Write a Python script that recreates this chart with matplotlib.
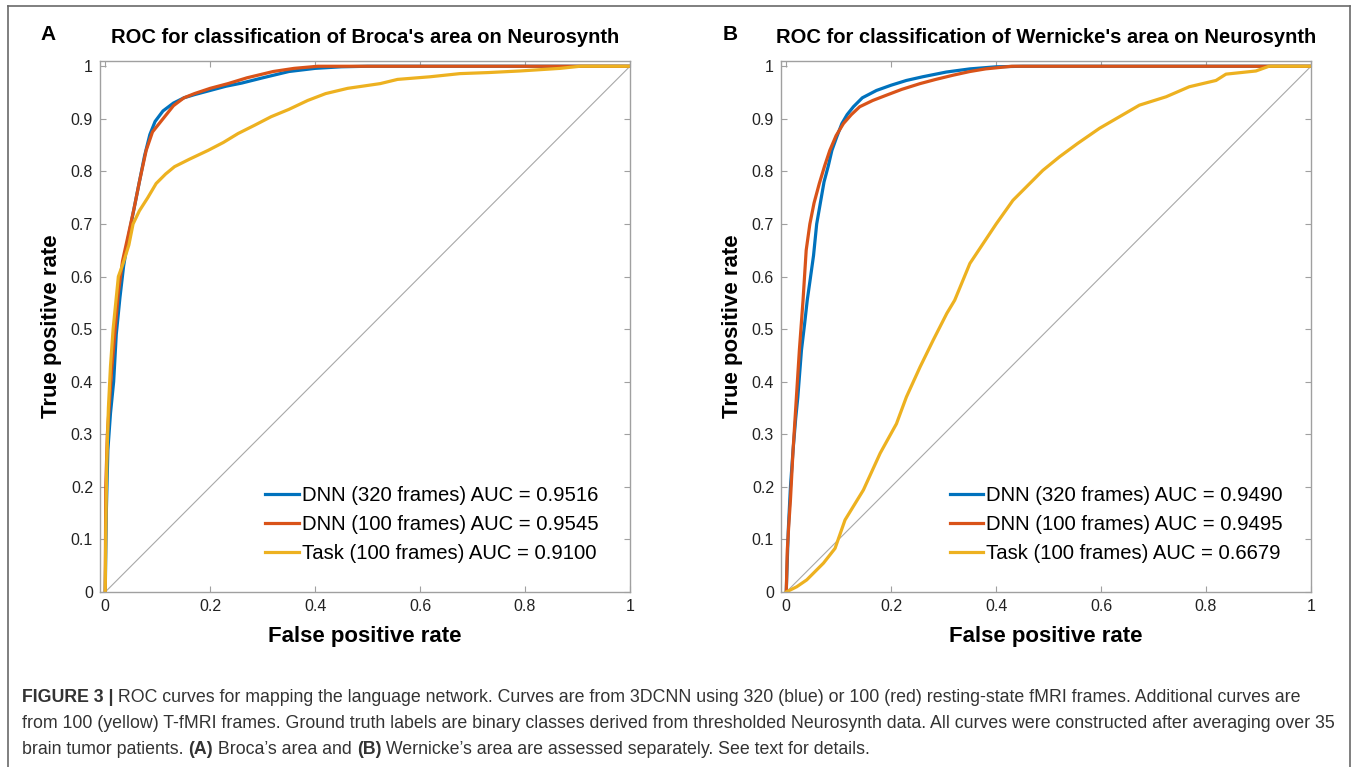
import matplotlib
matplotlib.use('Agg')
import matplotlib.pyplot as plt
from matplotlib.lines import Line2D

plt.rcParams['font.family'] = ['Liberation Sans', 'DejaVu Sans']

# ---- Panel A: Broca's area ----
broca_dnn320_fpr = [0, 0.002, 0.005, 0.010, 0.016, 0.021, 0.028, 0.035, 0.045, 0.055, 0.065, 0.075,
                    0.085, 0.095, 0.11, 0.13, 0.15, 0.17, 0.2, 0.23, 0.26, 0.3, 0.35, 0.4, 0.45, 0.5, 1.0]
broca_dnn320_tpr = [0, 0.15, 0.27, 0.34, 0.40, 0.49, 0.56, 0.62, 0.68, 0.73, 0.78, 0.83,
                    0.87, 0.895, 0.915, 0.93, 0.94, 0.946, 0.954, 0.962, 0.968, 0.978, 0.99, 0.996, 0.999, 1.0, 1.0]

broca_dnn100_fpr = [0, 0.001, 0.004, 0.008, 0.012, 0.018, 0.025, 0.033, 0.044, 0.055, 0.065, 0.078,
                    0.09, 0.11, 0.13, 0.15, 0.17, 0.2, 0.234, 0.27, 0.32, 0.36, 0.405, 1.0]
broca_dnn100_tpr = [0, 0.2, 0.3, 0.36, 0.42, 0.49, 0.57, 0.63, 0.68, 0.73, 0.78, 0.84,
                    0.875, 0.90, 0.925, 0.94, 0.948, 0.958, 0.967, 0.978, 0.99, 0.996, 1.0, 1.0]

broca_task_fpr = [0, 0.001, 0.003, 0.006, 0.010, 0.015, 0.020, 0.025, 0.034, 0.045, 0.053, 0.065,
                  0.081, 0.097, 0.115, 0.132, 0.16, 0.196, 0.225, 0.253, 0.285, 0.316, 0.35, 0.386,
                  0.42, 0.462, 0.524, 0.557, 0.619, 0.676, 0.73, 0.79, 0.867, 0.905, 1.0]
broca_task_tpr = [0, 0.12, 0.25, 0.35, 0.43, 0.50, 0.55, 0.60, 0.625, 0.66, 0.70, 0.725,
                  0.75, 0.777, 0.795, 0.809, 0.823, 0.84, 0.855, 0.872, 0.888, 0.904, 0.918, 0.935,
                  0.948, 0.958, 0.967, 0.975, 0.98, 0.986, 0.988, 0.991, 0.996, 1.0, 1.0]

# ---- Panel B: Wernicke's area ----
wern_dnn320_fpr = [0, 0.004, 0.008, 0.013, 0.018, 0.022, 0.029, 0.035, 0.040, 0.045, 0.052, 0.058,
                   0.065, 0.072, 0.080, 0.087, 0.096, 0.106, 0.116, 0.128, 0.145, 0.172, 0.2, 0.229,
                   0.26, 0.305, 0.35, 0.40, 0.45, 1.0]
wern_dnn320_tpr = [0, 0.12, 0.2, 0.27, 0.33, 0.37, 0.46, 0.51, 0.555, 0.59, 0.64, 0.70,
                   0.74, 0.78, 0.81, 0.84, 0.865, 0.891, 0.908, 0.923, 0.94, 0.954, 0.964, 0.973,
                   0.98, 0.989, 0.995, 0.999, 1.0, 1.0]

wern_dnn100_fpr = [0, 0.002, 0.005, 0.008, 0.013, 0.019, 0.025, 0.032, 0.038, 0.045, 0.053, 0.063,
                   0.073, 0.083, 0.095, 0.109, 0.124, 0.14, 0.165, 0.191, 0.22, 0.255, 0.285, 0.318,
                   0.35, 0.38, 0.43, 1.0]
wern_dnn100_tpr = [0, 0.08, 0.13, 0.175, 0.27, 0.365, 0.46, 0.555, 0.65, 0.70, 0.74, 0.777,
                   0.81, 0.84, 0.868, 0.891, 0.908, 0.923, 0.935, 0.945, 0.956, 0.967, 0.975, 0.983,
                   0.99, 0.995, 1.0, 1.0]

wern_task_fpr = [0, 0.02, 0.039, 0.071, 0.093, 0.112, 0.147, 0.179, 0.21, 0.229, 0.255, 0.28,
                 0.306, 0.321, 0.35, 0.40, 0.432, 0.489, 0.521, 0.555, 0.597, 0.635, 0.673, 0.724,
                 0.768, 0.819, 0.838, 0.895, 0.92, 1.0]
wern_task_tpr = [0, 0.01, 0.023, 0.055, 0.083, 0.137, 0.194, 0.264, 0.32, 0.371, 0.428, 0.479,
                 0.53, 0.555, 0.625, 0.70, 0.745, 0.802, 0.828, 0.853, 0.882, 0.904, 0.926, 0.942,
                 0.961, 0.973, 0.985, 0.991, 1.0, 1.0]

labels_A = ['DNN (320 frames) AUC = 0.9516', 'DNN (100 frames) AUC = 0.9545', 'Task (100 frames) AUC = 0.9100']
labels_B = ['DNN (320 frames) AUC = 0.9490', 'DNN (100 frames) AUC = 0.9495', 'Task (100 frames) AUC = 0.6679']
titles = ["ROC for classification of Broca's area on Neurosynth",
          "ROC for classification of Wernicke's area on Neurosynth"]
panel_letters = ['A', 'B']

xtick_vals = [0, 0.2, 0.4, 0.6, 0.8, 1]
xtick_labels = ['0', '0.2', '0.4', '0.6', '0.8', '1']
ytick_vals = [0, 0.1, 0.2, 0.3, 0.4, 0.5, 0.6, 0.7, 0.8, 0.9, 1]
ytick_labels = ['0', '0.1', '0.2', '0.3', '0.4', '0.5', '0.6', '0.7', '0.8', '0.9', '1']

colors = ['#0072BD', '#D95319', '#EDB120']  # MATLAB default order

W, H = 1358, 767
fig = plt.figure(figsize=(W / 100, H / 100), dpi=100)

axA = fig.add_axes([100 / W, 1 - 592 / H, 530 / W, 531 / H])
axB = fig.add_axes([781 / W, 1 - 592 / H, 530 / W, 531 / H])

panels = [
    (axA, [(broca_dnn320_fpr, broca_dnn320_tpr), (broca_dnn100_fpr, broca_dnn100_tpr),
           (broca_task_fpr, broca_task_tpr)], labels_A),
    (axB, [(wern_dnn320_fpr, wern_dnn320_tpr), (wern_dnn100_fpr, wern_dnn100_tpr),
           (wern_task_fpr, wern_task_tpr)], labels_B),
]

for i, (ax, curves, labels) in enumerate(panels):
    ax.plot([0, 1], [0, 1], color='#a8a8a8', linewidth=0.8, zorder=1)
    for (fpr, tpr), c in zip(curves, colors):
        ax.plot(fpr, tpr, color=c, linewidth=2.3, zorder=2)

    ax.set_xlim(-0.01, 1)
    ax.set_ylim(0, 1.01)
    ax.set_xticks(xtick_vals)
    ax.set_xticklabels(xtick_labels)
    ax.set_yticks(ytick_vals)
    ax.set_yticklabels(ytick_labels)
    ax.tick_params(direction='in', length=4, width=0.8, color='#a0a0a0', top=True, right=True,
                   labelsize=11.5, labelcolor='#222222', pad=5)
    for sp in ax.spines.values():
        sp.set_color('#a0a0a0')
        sp.set_linewidth(1.0)

    ax.set_title(titles[i], fontsize=14.5, fontweight='bold', pad=13)
    ax.set_xlabel('False positive rate', fontsize=16, fontweight='bold')
    ax.set_ylabel('True positive rate', fontsize=16, fontweight='bold')
    ax.xaxis.set_label_coords(0.5, -0.064)
    ax.yaxis.set_label_coords(-0.072, 0.5)

    handles = [Line2D([0], [0], color=c, linewidth=2.3) for c in colors]
    ax.legend(handles, labels, loc='lower right', bbox_to_anchor=(0.94 if i == 0 else 0.947, 0.055),
              frameon=False, fontsize=14.6, handlelength=1.65, handletextpad=0.15,
              labelspacing=0.48, borderaxespad=0, borderpad=0)

    x0 = 48 if i == 0 else 730
    fig.text(x0 / W, 1 - 35 / H, panel_letters[i], fontsize=15, fontweight='bold',
             ha='center', va='center')

# outer frame of the figure box
frame_col = '#6a6a6a'
fig.add_artist(Line2D([8 / W, 8 / W], [0, 1 - 6 / H], color=frame_col, linewidth=1.2))
fig.add_artist(Line2D([1350 / W, 1350 / W], [0, 1 - 6 / H], color=frame_col, linewidth=1.2))
fig.add_artist(Line2D([8 / W, 1350 / W], [1 - 6 / H, 1 - 6 / H], color=frame_col, linewidth=1.2))

# caption, built piece by piece so bold parts follow the regular text
caption_lines = [
    [('FIGURE 3 |', 'bold'), (' ROC curves for mapping the language network. Curves are from 3DCNN using 320 (blue) '
                               'or 100 (red) resting-state fMRI frames. Additional curves are', 'normal')],
    [('from 100 (yellow) T-fMRI frames. Ground truth labels are binary classes derived from thresholded '
      'Neurosynth data. All curves were constructed after averaging over 35', 'normal')],
    [('brain tumor patients. ', 'normal'), ('(A)', 'bold'), (' Broca\u2019s area and ', 'normal'), ('(B)', 'bold'),
     (' Wernicke\u2019s area are assessed separately. See text for details.', 'normal')],
]
caption_base = [702, 728, 754]
renderer = fig.canvas.get_renderer()
for parts, yy in zip(caption_lines, caption_base):
    xpix = 22
    for txt, wt in parts:
        t = fig.text(xpix / W, 1 - yy / H, txt, fontsize=12.8, fontweight=wt, color='#333333',
                     ha='left', va='baseline')
        xpix = t.get_window_extent(renderer).x1

fig.savefig('out.png', dpi=100)
